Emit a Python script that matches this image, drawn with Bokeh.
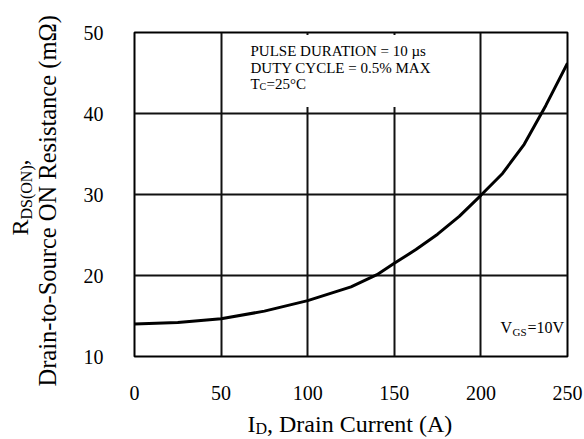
import math
from bokeh.plotting import figure
from bokeh.layouts import column, row
from bokeh.models import Label, Range1d, BoxAnnotation, FixedTicker
from bokeh.embed import file_html
from bokeh.resources import INLINE

# Data
drain_current = [0, 25, 50, 75, 100, 125, 140, 150, 162.5, 175, 187.5, 200, 212.5, 225, 237.5, 250]
rds_on = [14.0, 14.2, 14.65, 15.6, 16.9, 18.6, 20.1, 21.5, 23.2, 25.1, 27.3, 29.9, 32.6, 36.2, 41.0, 46.2]
x_ticks = [0, 50, 100, 150, 200, 250]
y_ticks = [10, 20, 30, 40, 50]

W, H = 584, 439
LEFT_W = 62          # width of the panel holding the y-axis title
BOTTOM_H = 34        # height of the panel holding the x-axis title
MAIN_H = H - BOTTOM_H
FONT = "Liberation Serif"

p = figure(width=W - LEFT_W, height=MAIN_H, x_range=Range1d(0, 250), y_range=Range1d(10, 50),
           output_backend="svg", toolbar_location=None, frame_align=False,
           min_border_left=134 - LEFT_W, min_border_right=17, min_border_top=32,
           min_border_bottom=MAIN_H - 356)
p.background_fill_color = "white"
p.border_fill_color = "white"
p.outline_line_color = "black"
p.outline_line_width = 2

for ax in (p.xaxis, p.yaxis):
    ax.axis_line_color = None
    ax.major_tick_line_color = None
    ax.minor_tick_line_color = None
    ax.major_label_text_font = FONT
    ax.major_label_text_font_size = "20px"
    ax.major_label_text_color = "black"
p.xaxis.ticker = FixedTicker(ticks=x_ticks)
p.yaxis.ticker = FixedTicker(ticks=y_ticks)
p.xaxis.major_label_standoff = 23
p.yaxis.major_label_standoff = 25

p.xgrid.ticker = FixedTicker(ticks=x_ticks)
p.ygrid.ticker = FixedTicker(ticks=y_ticks)
for g in (p.xgrid, p.ygrid):
    g.grid_line_color = "#111111"
    g.grid_line_width = 2

p.line(drain_current, rds_on, line_color="black", line_width=3)

# white box behind the test-condition note
p.add_layout(BoxAnnotation(left=58, right=190, bottom=40.8, top=49.7,
                           fill_color="white", fill_alpha=1.0, line_color=None, level="underlay"))


def lab(fig, text, x, y_top, size, angle=0.0):
    fig.add_layout(Label(x=x, y=y_top, x_units="canvas", y_units="canvas", text=text,
                         text_font=FONT, text_font_size=f"{size}px", angle=angle,
                         text_align="left", text_baseline="alphabetic", text_color="black"))


def blank(w, h):
    f = figure(width=w, height=h, x_range=Range1d(0, 1), y_range=Range1d(0, 1),
               x_axis_type=None, y_axis_type=None, output_backend="svg", toolbar_location=None,
               frame_align=False, title_location=None,
               min_border=0, min_border_left=0, min_border_right=0, min_border_top=0,
               min_border_bottom=0)
    f.outline_line_color = None
    f.background_fill_color = "white"
    f.border_fill_color = "white"
    f.grid.visible = False
    return f


# note text (canvas of main figure starts at x=LEFT_W)
ox = LEFT_W
lab(p, "PULSE DURATION = 10 \u00b5s", 250 - ox, 50, 15)
lab(p, "DUTY CYCLE = 0.5% MAX", 250 - ox, 67, 15)
lab(p, "T", 250 - ox, 83, 15)
lab(p, "C", 259 - ox, 86, 10)
lab(p, "=25\u00b0C", 266 - ox, 83, 15)

lab(p, "V", 500 - ox, 327, 16)
lab(p, "GS", 512 - ox, 331, 11)
lab(p, "=10V", 527 - ox, 327, 16)

# y axis title panel (rotated text, reads bottom to top)
left = blank(LEFT_W, MAIN_H)
A = math.pi / 2
lab(left, "R", 19, 235, 24, A)
lab(left, "DS(ON)", 26, 219, 16, A)
lab(left, ",", 19, 165, 24, A)
lab(left, "Drain-to-Source ON Resistance (m\u03a9)", 47, 386, 24.5, A)

# x axis title panel
bottom = blank(W, BOTTOM_H)
lab(bottom, "I", 247, 18, 24)
lab(bottom, "D", 255, 23, 16)
lab(bottom, ", Drain Current (A)", 266.5, 18, 24)

layout = column(row(left, p), bottom)
open("out.html", "w").write(file_html(layout, INLINE))
